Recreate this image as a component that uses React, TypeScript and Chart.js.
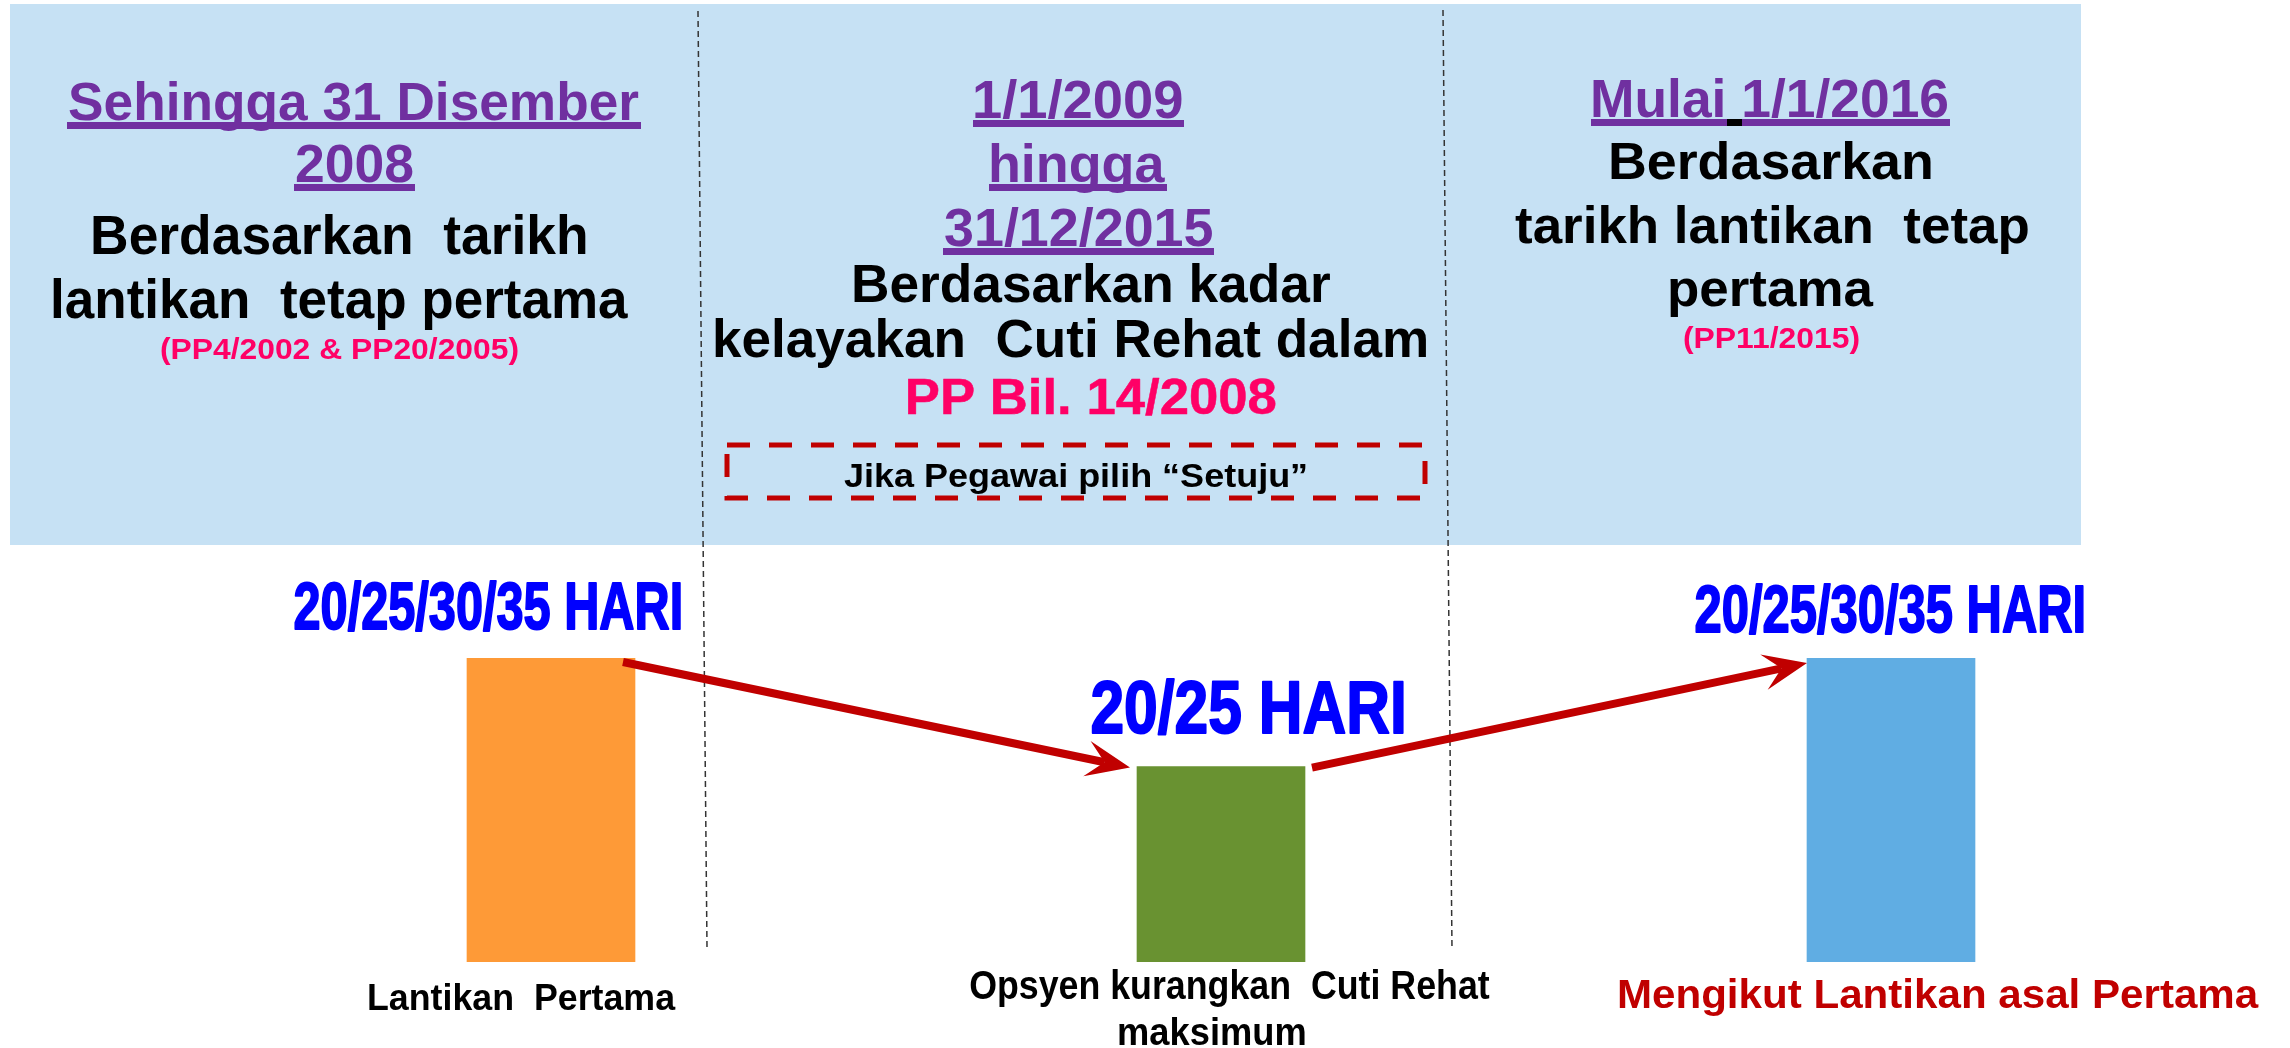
import React, { useEffect, useRef } from 'react';
import { Chart, registerables } from 'chart.js';

Chart.register(...registerables);

// ---------- data ----------
const categories: string[][] = [
  ['Lantikan  Pertama'],
  ['Opsyen kurangkan  Cuti Rehat', 'maksimum'],
  ['Mengikut Lantikan asal Pertama'],
];
const leaveDays: number[] = [35, 22.5, 35];
const dayLabels: string[] = ['20/25/30/35 HARI', '20/25 HARI', '20/25/30/35 HARI'];
const barColors: string[] = ['#FE9A37', '#699231', '#60ADE3'];

const periodDates: string[][] = [
  ['Sehingga 31 Disember', '2008'],
  ['1/1/2009', 'hingga', '31/12/2015'],
  ['Mulai 1/1/2016'],
];
const periodBasis: string[][] = [
  ['Berdasarkan  tarikh', 'lantikan  tetap pertama'],
  ['Berdasarkan kadar', 'kelayakan  Cuti Rehat dalam'],
  ['Berdasarkan', 'tarikh lantikan  tetap', 'pertama'],
];
const periodRefs: string[] = ['(PP4/2002 & PP20/2005)', 'PP Bil. 14/2008', '(PP11/2015)'];
const optionNote = 'Jika Pegawai pilih \u201CSetuju\u201D';

// ---------- layout (x0, x1, baseline, font size) ----------
type Box = [number, number, number, number];
const dateLayout: Box[][] = [
  [[69, 639, 120, 54], [296, 413, 182, 54]],
  [[975, 1182, 118, 53], [991, 1165, 182, 53], [945, 1212, 246, 53]],
  [[1593, 1948, 117, 54]],
];
const basisLayout: Box[][] = [
  [[93, 586, 254, 55], [53, 628, 318, 55]],
  [[854, 1330, 302, 53], [715, 1426, 357, 53]],
  [[1611, 1931, 179, 52], [1515, 2028, 243, 52], [1670, 1874, 306, 52]],
];
const refLayout: Box[] = [
  [161, 518, 359, 30],
  [908, 1276, 414, 50],
  [1684, 1859, 348, 30],
];
const refSmall = [true, false, true];
const noteLayout: Box = [844, 1306, 487, 34];
const dayLabelLayout: Box[] = [
  [295, 680, 629, 66],
  [1092, 1403, 733, 75],
  [1696, 2083, 632, 66],
];
const catLayout: Box[][] = [
  [[369, 676, 1010, 36]],
  [[970, 1490, 999, 41], [1119, 1305, 1045, 38]],
  [[1619, 2259, 1008, 40]],
];
const catColors = ['#000000', '#000000', '#C00000'];

const FONT = "'Liberation Sans', Arial, Helvetica, sans-serif";
const PURPLE = '#7030A0';
const PINK = '#FF0066';
const RED = '#C00000';
const PANEL = '#C6E1F4';

function drawFit(
  ctx: CanvasRenderingContext2D,
  text: string,
  box: Box,
  color: string,
  stroke = 0
) {
  const [x0, x1, base, size] = box;
  ctx.save();
  ctx.font = `bold ${size}px ${FONT}`;
  ctx.textAlign = 'left';
  ctx.textBaseline = 'alphabetic';
  const m = ctx.measureText(text);
  const inkW = m.actualBoundingBoxLeft + m.actualBoundingBoxRight;
  const sx = (x1 - x0) / inkW;
  ctx.translate(x0 + m.actualBoundingBoxLeft * sx, base);
  ctx.scale(sx, 1);
  ctx.fillStyle = color;
  ctx.fillText(text, 0, 0);
  if (stroke > 0) {
    ctx.strokeStyle = color;
    ctx.lineWidth = stroke;
    ctx.lineJoin = 'round';
    ctx.strokeText(text, 0, 0);
  }
  ctx.restore();
}

function drawArrow(ctx: CanvasRenderingContext2D, sx: number, sy: number, tx: number, ty: number) {
  const dx = tx - sx;
  const dy = ty - sy;
  const L = Math.hypot(dx, dy);
  const ux = dx / L;
  const uy = dy / L;
  const nx = -uy;
  const ny = ux;
  const P = (a: number, b: number): [number, number] => [tx + ux * a + nx * b, ty + uy * a + ny * b];
  ctx.save();
  ctx.strokeStyle = RED;
  ctx.fillStyle = RED;
  ctx.lineWidth = 8;
  ctx.lineCap = 'butt';
  const notch = P(-26, 0);
  ctx.beginPath();
  ctx.moveTo(sx, sy);
  ctx.lineTo(notch[0], notch[1]);
  ctx.stroke();
  const b1 = P(-44, -18);
  const b2 = P(-44, 18);
  ctx.beginPath();
  ctx.moveTo(tx, ty);
  ctx.lineTo(b1[0], b1[1]);
  ctx.lineTo(notch[0], notch[1]);
  ctx.lineTo(b2[0], b2[1]);
  ctx.closePath();
  ctx.fill();
  ctx.restore();
}

const infographic = {
  id: 'infographic',
  beforeDatasetsDraw(chart: any) {
    const ctx: CanvasRenderingContext2D = chart.ctx;
    ctx.save();
    // top panel
    ctx.fillStyle = PANEL;
    ctx.fillRect(10, 4, 2071, 541);
    // dashed separators
    ctx.strokeStyle = '#333333';
    ctx.lineWidth = 1.5;
    ctx.setLineDash([6, 4]);
    ctx.beginPath();
    ctx.moveTo(698, 11);
    ctx.lineTo(707, 947);
    ctx.moveTo(1443, 10);
    ctx.lineTo(1452, 949);
    ctx.stroke();
    ctx.setLineDash([]);
    ctx.restore();
  },
  afterDatasetsDraw(chart: any) {
    const ctx: CanvasRenderingContext2D = chart.ctx;
    // period headings (underlined)
    periodDates.forEach((lines, i) => {
      lines.forEach((t, j) => {
        const box = dateLayout[i][j];
        ctx.fillStyle = PURPLE;
        ctx.fillRect(box[0] - 2, box[2] + 2, box[1] - box[0] + 4, 7);
        if (i === 2) {
          ctx.fillStyle = '#000000';
          ctx.fillRect(1727, box[2] + 2, 15, 7);
        }
        drawFit(ctx, t, box, PURPLE);
      });
    });
    periodBasis.forEach((lines, i) => {
      lines.forEach((t, j) => drawFit(ctx, t, basisLayout[i][j], '#000000'));
    });
    periodRefs.forEach((t, i) => drawFit(ctx, t, refLayout[i], PINK, refSmall[i] ? 0 : 0.5));

    // dashed option box
    ctx.save();
    ctx.strokeStyle = RED;
    ctx.lineWidth = 5;
    ctx.setLineDash([23, 19]);
    ctx.strokeRect(727, 445, 698, 53);
    ctx.restore();
    drawFit(ctx, optionNote, noteLayout, '#000000');

    // arrows between bars
    const bars = chart.getDatasetMeta(0).data;
    const [b0, b1, b2] = bars;
    drawArrow(ctx, b0.x + b0.width / 2 - 12, b0.y + 4, b1.x - b1.width / 2 - 7, b1.y + 1);
    drawArrow(ctx, b1.x + b1.width / 2 + 7, b1.y + 1, b2.x - b2.width / 2, b2.y + 5);

    // day labels over bars
    dayLabels.forEach((t, i) => drawFit(ctx, t, dayLabelLayout[i], '#0000FF', 2));

    // category labels
    categories.forEach((lines, i) => {
      lines.forEach((t, j) => drawFit(ctx, t, catLayout[i][j], catColors[i]));
    });
  },
};

export default function App() {
  const ref = useRef<HTMLCanvasElement | null>(null);
  useEffect(() => {
    if (!ref.current) return;
    const chart = new Chart(ref.current, {
      type: 'bar',
      data: {
        labels: categories.map((c) => c.join(' ')),
        datasets: [
          {
            data: leaveDays,
            backgroundColor: barColors,
            borderWidth: 0,
            barThickness: 168,
          },
        ],
      },
      options: {
        animation: false,
        responsive: false,
        devicePixelRatio: 1,
        layout: { padding: { left: 216, right: 64, top: 658, bottom: 86 } },
        plugins: { legend: { display: false }, tooltip: { enabled: false } },
        scales: {
          x: { display: false },
          y: { display: false, min: 0, max: 35 },
        },
      },
      plugins: [infographic],
    } as any);
    return () => chart.destroy();
  }, []);
  return (
    <div style={{ position: 'absolute', left: 0, top: 0, width: 2290, height: 1048, background: '#ffffff' }}>
      <canvas ref={ref} width={2290} height={1048} style={{ display: 'block', width: 2290, height: 1048 }} />
    </div>
  );
}
